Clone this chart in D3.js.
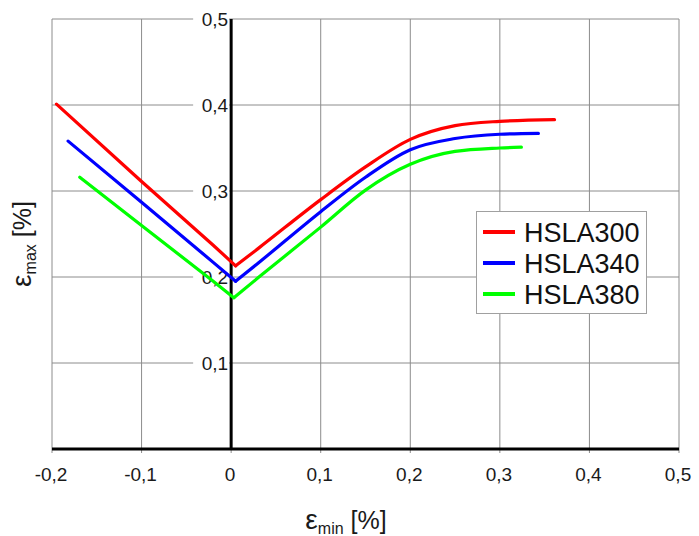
<!DOCTYPE html>
<html>
<head>
<meta charset="utf-8">
<script src="https://cdn.jsdelivr.net/npm/d3@7"></script>
<style>
  body { margin: 0; background: #fff; }
  svg { display: block; font-family: "Liberation Sans", Arial, sans-serif; }
</style>
</head>
<body>
<svg width="699" height="536"></svg>
<script>
// tick values
var xTicks = [-0.2, -0.1, 0, 0.1, 0.2, 0.3, 0.4, 0.5];
var yTicks = [0.1, 0.2, 0.3, 0.4, 0.5];

// series (eps_min, eps_max), the 4th point is the minimum
var seriesNames = ["HSLA300", "HSLA340", "HSLA380"];
var seriesColors = ["#ff0000", "#0000ff", "#00ff00"];
var hsla300 = [[-0.195, 0.401], [-0.1, 0.311], [-0.02, 0.237], [0.005, 0.213], [0.03, 0.233], [0.1, 0.290], [0.15, 0.328], [0.2, 0.360], [0.25, 0.376], [0.3, 0.381], [0.361, 0.383]];
var hsla340 = [[-0.182, 0.358], [-0.1, 0.287], [-0.02, 0.217], [0.005, 0.195], [0.03, 0.216], [0.1, 0.276], [0.15, 0.316], [0.2, 0.348], [0.25, 0.361], [0.3, 0.366], [0.343, 0.367]];
var hsla380 = [[-0.169, 0.316], [-0.1, 0.260], [-0.02, 0.195], [0.003, 0.176], [0.03, 0.199], [0.1, 0.258], [0.15, 0.301], [0.2, 0.331], [0.25, 0.346], [0.3, 0.350], [0.324, 0.351]];
var seriesData = [hsla300, hsla340, hsla380];
var minIndex = 3;

var svg = d3.select("svg"),
    margin = {top: 19, right: 20, bottom: 87, left: 52},
    width = +svg.attr("width") - margin.left - margin.right,
    height = +svg.attr("height") - margin.top - margin.bottom,
    g = svg.append("g").attr("transform", "translate(" + margin.left + "," + margin.top + ")");

var x = d3.scaleLinear().domain([-0.2, 0.5]).range([0, width]);
var y = d3.scaleLinear().domain([0, 0.5]).range([height, 0]);

var loc = d3.formatLocale({decimal: ",", thousands: ".", grouping: [3], currency: ["", ""], minus: "-"});
var f1 = loc.format(".1f");
var fmt = function(d) { return d === 0 ? "0" : f1(d); };

// grid
g.append("g")
    .selectAll("line")
    .data(xTicks)
    .enter().append("line")
    .attr("x1", function(d) { return x(d); })
    .attr("x2", function(d) { return x(d); })
    .attr("y1", 0)
    .attr("y2", height + 4)
    .attr("stroke", "#8c8c8c")
    .attr("stroke-width", 1);

g.append("g")
    .selectAll("line")
    .data(yTicks)
    .enter().append("line")
    .attr("x1", 0)
    .attr("x2", width)
    .attr("y1", function(d) { return y(d); })
    .attr("y2", function(d) { return y(d); })
    .attr("stroke", "#8c8c8c")
    .attr("stroke-width", 1);

// y tick labels sit on the zero line, with white background
var yLab = g.append("g")
    .selectAll("g")
    .data(yTicks)
    .enter().append("g")
    .attr("transform", function(d) { return "translate(" + x(0) + "," + y(d) + ")"; });

yLab.append("rect")
    .attr("x", -38)
    .attr("y", -9)
    .attr("width", 36)
    .attr("height", 18)
    .attr("fill", "#fff");

yLab.append("text")
    .attr("x", -3)
    .attr("dy", "0.36em")
    .attr("text-anchor", "end")
    .attr("font-size", 19)
    .attr("fill", "#1a1a1a")
    .text(fmt);

// axes lines
g.append("line")
    .attr("x1", 0).attr("x2", width)
    .attr("y1", y(0)).attr("y2", y(0))
    .attr("stroke", "#000").attr("stroke-width", 3);

g.append("line")
    .attr("x1", x(0)).attr("x2", x(0))
    .attr("y1", y(0.5)).attr("y2", y(0))
    .attr("stroke", "#000").attr("stroke-width", 3);

// x tick labels
g.append("g")
    .selectAll("text")
    .data(xTicks)
    .enter().append("text")
    .attr("x", function(d) { return x(d) - 1; })
    .attr("y", height + 32)
    .attr("text-anchor", "middle")
    .attr("font-size", 19)
    .attr("fill", "#1a1a1a")
    .text(fmt);

// curves: straight branch left of the minimum, smooth branch right of it
var straight = d3.line()
    .x(function(d) { return x(d[0]); })
    .y(function(d) { return y(d[1]); });

var smooth = d3.line()
    .x(function(d) { return x(d[0]); })
    .y(function(d) { return y(d[1]); })
    .curve(d3.curveMonotoneX);

var curves = g.append("g")
    .selectAll("g")
    .data(seriesData)
    .enter().append("g")
    .attr("fill", "none")
    .attr("stroke", function(d, i) { return seriesColors[i]; })
    .attr("stroke-width", 3.2)
    .attr("stroke-linejoin", "round")
    .attr("stroke-linecap", "round");

curves.append("path")
    .attr("d", function(d) { return straight(d.slice(0, minIndex + 1)); });

curves.append("path")
    .attr("d", function(d) { return smooth(d.slice(minIndex)); });

// legend
var legend = svg.append("g").attr("transform", "translate(476,211)");
legend.append("rect")
    .attr("x", 0.5).attr("y", 0.5)
    .attr("width", 170).attr("height", 102)
    .attr("fill", "#fff")
    .attr("stroke", "#a0a0a0");

var item = legend.selectAll("g.item")
    .data(seriesNames)
    .enter().append("g")
    .attr("class", "item")
    .attr("transform", function(d, i) { return "translate(0," + (21 + i * 31) + ")"; });

item.append("line")
    .attr("x1", 7).attr("x2", 39)
    .attr("stroke", function(d, i) { return seriesColors[i]; })
    .attr("stroke-width", 4);

item.append("text")
    .attr("x", 48)
    .attr("dy", "0.36em")
    .attr("font-size", 27)
    .attr("fill", "#111")
    .text(function(d) { return d; });

// axis titles
var xt = svg.append("text")
    .attr("x", 346)
    .attr("y", 529)
    .attr("text-anchor", "middle")
    .attr("fill", "#1a1a1a")
    .attr("font-size", 25);
xt.append("tspan").attr("font-size", 28).text("ε");
xt.append("tspan").attr("font-size", 16).attr("dy", 5).text("min");
xt.append("tspan").attr("dy", -5).text(" [%]");

var yt = svg.append("text")
    .attr("transform", "translate(31,244) rotate(-90)")
    .attr("text-anchor", "middle")
    .attr("fill", "#1a1a1a")
    .attr("font-size", 25);
yt.append("tspan").attr("font-size", 28).text("ε");
yt.append("tspan").attr("font-size", 16).attr("dy", 5).text("max");
yt.append("tspan").attr("dy", -5).text(" [%]");
</script>
</body>
</html>
